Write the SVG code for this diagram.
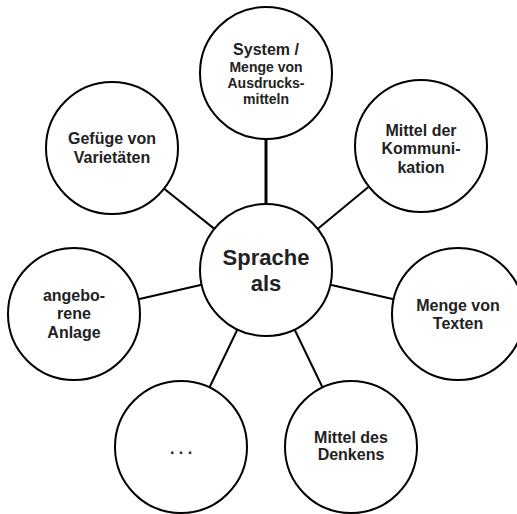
<svg xmlns="http://www.w3.org/2000/svg" width="517" height="514" viewBox="0 0 517 514">
<style>
.n{fill:#fff;stroke:#000;stroke-width:2}
.c line{stroke:#000;stroke-width:2}
text{font-family:"Liberation Sans",Arial,sans-serif;font-weight:bold;fill:#222;text-anchor:middle;font-size:16px}
.s{font-size:14px}
.b{font-size:22px}
</style>
<rect width="517" height="514" fill="#fff"/>
<g id="connectors" class="c">
<line x1="266" y1="204" x2="266" y2="139" style="stroke-width:3"/>
<line x1="214.4" y1="228.9" x2="163.6" y2="188.3"/>
<line x1="317.6" y1="228.9" x2="368.4" y2="187"/>
<line x1="201.7" y1="284.7" x2="138.3" y2="299.2"/>
<line x1="330.3" y1="284.7" x2="393.7" y2="299.2"/>
<line x1="237.4" y1="329.5" x2="209.2" y2="388.0"/>
<line x1="294.6" y1="329.5" x2="322.8" y2="388.0"/>
</g>
<g id="center">
<circle class="n" cx="266" cy="270" r="66"/>
<text class="b" x="266" y="265">Sprache</text>
<text class="b" x="266" y="291">als</text>
</g>
<g id="system">
<circle class="n" cx="266" cy="73" r="66"/>
<text x="266" y="55">System /</text>
<text class="s" x="266" y="72">Menge von</text>
<text class="s" x="266" y="88">Ausdrucks-</text>
<text class="s" x="266" y="104">mitteln</text>
</g>
<g id="gefuege">
<circle class="n" cx="112" cy="148" r="66"/>
<text x="112" y="144">Gefüge von</text>
<text x="112" y="163">Varietäten</text>
</g>
<g id="kommunikation">
<circle class="n" cx="421" cy="146" r="66"/>
<text x="421" y="136">Mittel der</text>
<text x="421" y="154">Kommuni-</text>
<text x="421" y="173">kation</text>
</g>
<g id="anlage">
<circle class="n" cx="74" cy="314" r="66"/>
<text x="74" y="301">angebo-</text>
<text x="74" y="319">rene</text>
<text x="74" y="338">Anlage</text>
</g>
<g id="texte">
<circle class="n" cx="458" cy="314" r="66"/>
<text x="458" y="311">Menge von</text>
<text x="458" y="329">Texten</text>
</g>
<g id="etc">
<circle class="n" cx="181" cy="447" r="66"/>
<text x="181" y="454">. . .</text>
</g>
<g id="denken">
<circle class="n" cx="351" cy="447" r="66"/>
<text x="351" y="443">Mittel des</text>
<text x="351" y="460">Denkens</text>
</g>
</svg>
